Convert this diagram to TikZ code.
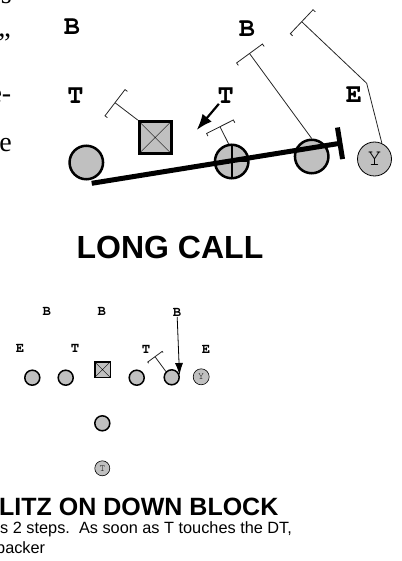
\documentclass[tikz,border=0pt]{standalone}
\usepackage{fontspec}
\setmainfont{Liberation Serif}
\setsansfont{Liberation Sans}
\newfontfamily\playfont{texgyrecursor-bold.otf}
\newfontfamily\tagfont{texgyrecursor-regular.otf}
\usetikzlibrary{arrows.meta, calc, positioning}
\definecolor{jersey}{RGB}{192,192,192}
\tikzset{
  lineman/.style = {circle, draw, fill=jersey, line width=2.5pt, minimum size=33.5pt, inner sep=0pt},
  snapper/.style = {rectangle, draw, fill=jersey, line width=2.8pt, minimum size=32pt, inner sep=0pt,
    path picture={\draw[thin] (path picture bounding box.north west) -- (path picture bounding box.south east)
      (path picture bounding box.north east) -- (path picture bounding box.south west);}},
  guard/.style = {lineman, path picture={\draw[line width=1.8pt] (path picture bounding box.north) -- (path picture bounding box.south)
      (path picture bounding box.west) -- (path picture bounding box.east);}},
  tagged/.style = {circle, draw, fill=jersey, line width=0.8pt, minimum size=34pt, inner sep=0pt, font=\tagfont\fontsize{24}{24}\selectfont},
  defender/.style = {inner sep=0pt, font=\playfont\fontsize{27}{27}\selectfont},
  block/.style = {draw=black!85, line width=0.8pt},
  pull/.style = {line width=5pt},
  rush/.style = {-{Latex[length=16pt,width=12pt]}, line width=2.2pt},
  % small diagram
  smallman/.style = {circle, draw, fill=jersey, line width=1.5pt, minimum size=15pt, inner sep=0pt},
  smallsnap/.style = {snapper, line width=1.5pt, minimum size=15.5pt},
  smalltag/.style = {circle, draw, fill=jersey, line width=0.6pt, minimum size=16pt, inner sep=0pt, font=\tagfont\fontsize{10}{10}\selectfont},
  smalldef/.style = {inner sep=0pt, font=\playfont\fontsize{14}{14}\selectfont},
  smallrush/.style = {-{Latex[length=12pt,width=8pt]}, line width=0.8pt},
  pagetext/.style = {anchor=base east, inner sep=0pt, font=\fontsize{28}{28}\selectfont},
}
% bracket at the end of a block: #2 end point, #3 player side, #4 half width
\newcommand{\blockbar}[4][3pt]{%
  \draw[block] ($(#2)!#4!90:(#3) + (#2)!#1!(#3) - (#2)$) -- ($(#2)!#4!90:(#3)$)
    -- ($(#2)!#4!-90:(#3)$) -- ($(#2)!#4!-90:(#3) + (#2)!#1!(#3) - (#2)$);
}

\begin{document}
\begin{tikzpicture}[x=1pt, y=-1pt]
\useasboundingbox (0,0) rectangle (401,561);

% text of the page column
\node[pagetext] (frag1) at (12,4) {s};
\node[pagetext] (frag2) at (11,53) {”};
\node[pagetext] (frag3) at (11.5,102.5) {e-};
\node[pagetext] (frag4) at (12,152) {e};

% long call
\node[defender] (B1) at (72,27) {B};
\node[defender] (B2) at (247,29) {B};
\node[defender] (T1) at (75.5,95.5) {T};
\node[defender] (T2) at (225.7,95.8) {T};
\node[defender] (E1) at (354,94.5) {E};

\node[lineman] (tackle) at (86.3,162.5) {};
\node[snapper] (center) at (155.2,137.5) {};
\node[guard] (guard) at (231.7,161.5) {};
\node[lineman] (end) at (311.7,156.5) {};
\node[tagged] (ytag) at (374.5,159) {Y};

\coordinate (pullA) at (91.7,183.3);
\coordinate (pullB) at (340,143.3);
\draw[pull] (pullA) -- (pullB);
\draw[pull] ($(pullB)!16pt!90:(pullA)$) -- ($(pullB)!16pt!-90:(pullA)$);

\coordinate (rushend) at (196.7,130);
\draw[rush] (T2) -- (rushend);

\coordinate (blk1) at (115,102.7);
\draw[block] (center.north west) -- (blk1);
\blockbar{blk1}{center.north west}{16.5pt}

\coordinate (blk2) at (220,126.7);
\draw[block] (guard.100) -- (blk2);
\blockbar{blk2}{guard.100}{15pt}

\coordinate (blk3) at (249.5,53.5);
\draw[block] (end.north) -- (blk3);
\blockbar{blk3}{end.north}{16pt}

\coordinate (bend) at (366.7,83.3);
\coordinate (blk4) at (301.7,21.7);
\draw[block] (ytag.65) -- (bend) -- (blk4);
\blockbar{blk4}{bend}{16.5pt}

\node[font=\sffamily\bfseries\fontsize{32}{32}\selectfont, inner sep=0pt] (title1) at (170,247) {LONG CALL};

% blitz on down block
\node[smalldef] (b1) at (46.7,311.7) {B};
\node[smalldef] (b2) at (101.7,311.7) {B};
\node[smalldef] (b3) at (177,312.5) {B};
\node[smalldef] (e1) at (20,348.5) {E};
\node[smalldef] (t1) at (75,348.5) {T};
\node[smalldef] (t2) at (146,349) {T};
\node[smalldef] (e2) at (206,349) {E};

\node[smallman] (lt) at (32.3,377.7) {};
\node[smallman] (lg) at (65.7,377.7) {};
\node[smallsnap] (c) at (102.5,369.7) {};
\node[smallman] (rg) at (136.7,377.7) {};
\node[smallman] (rt) at (171.7,377.3) {};
\node[smalltag] (y) at (201.2,376.8) {Y};
\node[smallman] (qb) at (102.3,423.3) {};
\node[smalltag, minimum size=15pt] (tb) at (102.3,468.3) {T};

\coordinate (blitzend) at (179.5,375);
\draw[smallrush] (b3) -- (blitzend);

\coordinate (blk5) at (155,356.7);
\draw[block] (rt.north west) -- (blk5);
\blockbar[1.5pt]{blk5}{rt.north west}{9pt}

\node[anchor=base west, inner sep=0pt, font=\sffamily\bfseries\fontsize{25}{25}\selectfont] (title2) at (-1,515) {LITZ ON DOWN BLOCK};
\node[anchor=base west, inner sep=0pt, font=\sffamily\fontsize{16.3}{16.3}\selectfont] (note1) at (0,533) {s 2 steps.\ \ As soon as T touches the DT,};
\node[anchor=base west, inner sep=0pt, font=\sffamily\fontsize{16.3}{16.3}\selectfont] (note2) at (-4,553) {backer};
\end{tikzpicture}
\end{document}
